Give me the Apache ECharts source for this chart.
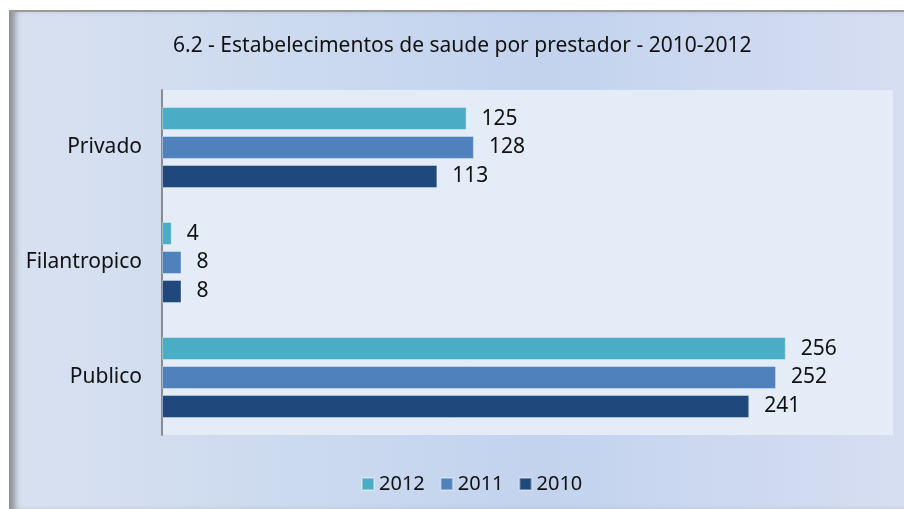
<!DOCTYPE html>
<html>
<head>
<meta charset="utf-8">
<script src="https://cdn.jsdelivr.net/npm/echarts@6/dist/echarts.min.js"></script>
<style>
  body { margin: 0; background: #fff; }
  #frame {
    position: absolute; left: 9px; top: 10px; width: 895px; height: 497px;
    border-top: 2px solid #9a9a9a; border-bottom: 2px solid #a9adb5;
    background: linear-gradient(90deg, #d8e1f0 0%, #c9d8ef 40%, #c3d3ee 60%, #d6def2 100%);
    box-shadow: inset 9px 0 6px -3px #8c8f96;
  }
  #main { position: absolute; left: 0; top: 0; width: 904px; height: 509px; }
</style>
</head>
<body>
<div id="frame"></div>
<div id="main"></div>
<script>
var titleText = '6.2 - Estabelecimentos de saude por prestador - 2010-2012';
var categories = ['Privado', 'Filantropico', 'Publico'];
var seriesNames = ['2012', '2011', '2010'];
var values2012 = [125, 4, 256];
var values2011 = [128, 8, 252];
var values2010 = [113, 8, 241];
var colors = ['#4BACC6', '#4F81BD', '#1F497D'];

var font = 'Noto Sans';
var dataSets = [values2012, values2011, values2010];

var myChart = echarts.init(document.getElementById('main'));
myChart.setOption({
    backgroundColor: 'transparent',
    animation: false,
    title: {
        text: titleText,
        left: 168,
        top: 31,
        textStyle: { fontFamily: font, fontSize: 21, fontWeight: 'normal', color: '#111' }
    },
    legend: {
        data: seriesNames,
        bottom: 10,
        left: 356,
        itemWidth: 12,
        itemHeight: 12,
        itemGap: 15,
        icon: 'rect',
        textStyle: { fontFamily: font, fontSize: 20, color: '#111' }
    },
    grid: {
        left: 162,
        right: 11,
        top: 90,
        bottom: 74,
        show: true,
        backgroundColor: '#e3ecf7',
        borderWidth: 0
    },
    xAxis: {
        type: 'value',
        min: 0,
        max: 300,
        show: false
    },
    yAxis: {
        type: 'category',
        inverse: true,
        data: categories,
        axisLine: { show: true, lineStyle: { color: '#8c8c8c', width: 2 } },
        axisTick: { show: false },
        axisLabel: { margin: 20, fontFamily: font, fontSize: 21, color: '#111' }
    },
    series: seriesNames.map(function (name, i) {
        return {
            name: name,
            type: 'bar',
            data: dataSets[i],
            barWidth: 23,
            barGap: '26%',
            itemStyle: { color: colors[i], borderColor: 'rgba(255,255,255,0.35)', borderWidth: 1 },
            label: {
                show: true,
                position: 'right',
                distance: 15,
                fontFamily: font,
                fontSize: 21,
                color: '#111'
            }
        };
    })
});
</script>
</body>
</html>
